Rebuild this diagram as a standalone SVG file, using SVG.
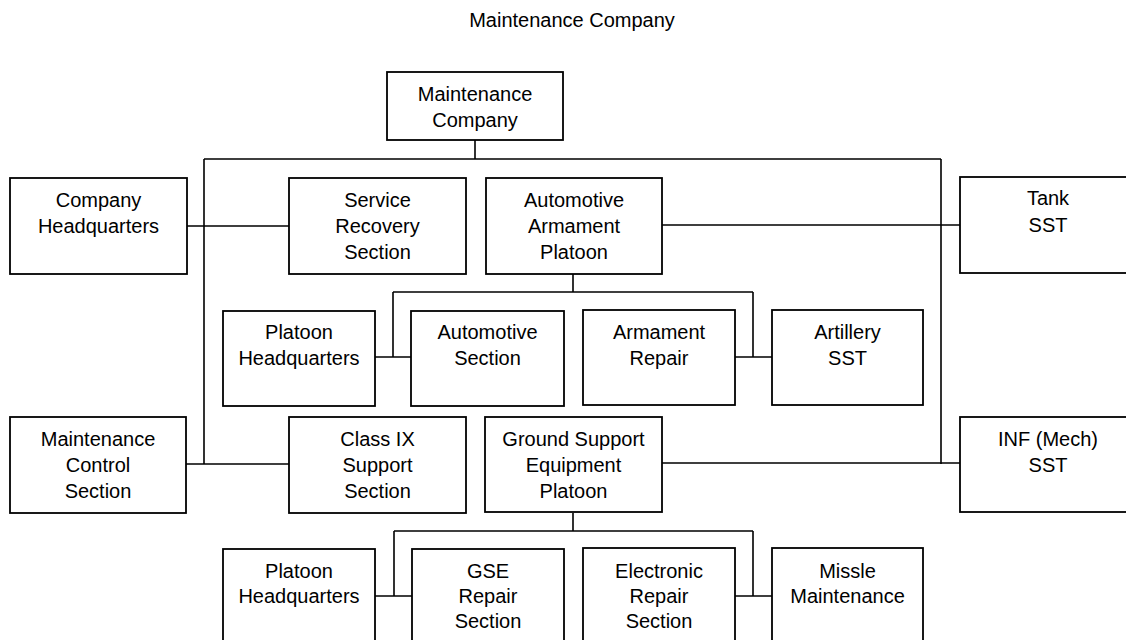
<svg xmlns="http://www.w3.org/2000/svg" width="1126" height="640" viewBox="0 0 1126 640">
<style>
.b{fill:#fff;stroke:#000;stroke-width:1.8}
.t{font-family:"Liberation Sans",Arial,sans-serif;font-size:20px;fill:#000;text-anchor:middle}
.c{fill:none;stroke:#000;stroke-width:1.6}
</style>
<rect width="1126" height="640" fill="#fff"/>
<text class="t" x="572" y="27">Maintenance Company</text>
<g id="connectors">
<path class="c" d="M475,140V159M204,159H941M204,159V464M941,159V464"/>
<path class="c" d="M187,226H289M662,225H960M186,464H289M662,463H960"/>
<path class="c" d="M573,274V292M393,292H753M393,292V357M753,292V357M375,357H411M735,357H772"/>
<path class="c" d="M573,513V531M394,531H753M394,531V596M753,531V596M375,596H412M735,596H772"/>
</g>
<g id="maintenance-company"><rect class="b" x="387" y="72" width="176" height="68"/><text class="t" x="475" y="101">Maintenance</text><text class="t" x="475" y="127">Company</text></g>
<g id="company-hq"><rect class="b" x="10" y="178" width="177" height="96"/><text class="t" x="98.5" y="207">Company</text><text class="t" x="98.5" y="233">Headquarters</text></g>
<g id="service-recovery"><rect class="b" x="289" y="178" width="177" height="96"/><text class="t" x="377.5" y="207">Service</text><text class="t" x="377.5" y="233">Recovery</text><text class="t" x="377.5" y="259">Section</text></g>
<g id="auto-arm-platoon"><rect class="b" x="486" y="178" width="176" height="96"/><text class="t" x="574" y="207">Automotive</text><text class="t" x="574" y="233">Armament</text><text class="t" x="574" y="259">Platoon</text></g>
<g id="tank-sst"><rect class="b" x="960" y="177" width="176" height="96"/><text class="t" x="1048" y="205">Tank</text><text class="t" x="1048" y="232">SST</text></g>
<g id="platoon-hq-1"><rect class="b" x="223" y="311" width="152" height="95"/><text class="t" x="299" y="339">Platoon</text><text class="t" x="299" y="365">Headquarters</text></g>
<g id="automotive-section"><rect class="b" x="411" y="311" width="153" height="95"/><text class="t" x="487.5" y="339">Automotive</text><text class="t" x="487.5" y="365">Section</text></g>
<g id="armament-repair"><rect class="b" x="583" y="310" width="152" height="95"/><text class="t" x="659" y="339">Armament</text><text class="t" x="659" y="365">Repair</text></g>
<g id="artillery-sst"><rect class="b" x="772" y="310" width="151" height="95"/><text class="t" x="847.5" y="339">Artillery</text><text class="t" x="847.5" y="365">SST</text></g>
<g id="maintenance-control"><rect class="b" x="10" y="417" width="176" height="96"/><text class="t" x="98" y="446">Maintenance</text><text class="t" x="98" y="472">Control</text><text class="t" x="98" y="498">Section</text></g>
<g id="class-ix"><rect class="b" x="289" y="417" width="177" height="96"/><text class="t" x="377.5" y="446">Class IX</text><text class="t" x="377.5" y="472">Support</text><text class="t" x="377.5" y="498">Section</text></g>
<g id="gse-platoon"><rect class="b" x="485" y="417" width="177" height="95"/><text class="t" x="573.5" y="446">Ground Support</text><text class="t" x="573.5" y="472">Equipment</text><text class="t" x="573.5" y="498">Platoon</text></g>
<g id="inf-mech-sst"><rect class="b" x="960" y="417" width="176" height="95"/><text class="t" x="1048" y="446">INF (Mech)</text><text class="t" x="1048" y="472">SST</text></g>
<g id="platoon-hq-2"><rect class="b" x="223" y="549" width="152" height="100"/><text class="t" x="299" y="578">Platoon</text><text class="t" x="299" y="603">Headquarters</text></g>
<g id="gse-repair"><rect class="b" x="412" y="549" width="152" height="100"/><text class="t" x="488" y="578">GSE</text><text class="t" x="488" y="603">Repair</text><text class="t" x="488" y="628">Section</text></g>
<g id="electronic-repair"><rect class="b" x="583" y="548" width="152" height="100"/><text class="t" x="659" y="578">Electronic</text><text class="t" x="659" y="603">Repair</text><text class="t" x="659" y="628">Section</text></g>
<g id="missle-maintenance"><rect class="b" x="772" y="548" width="151" height="100"/><text class="t" x="847.5" y="578">Missle</text><text class="t" x="847.5" y="603">Maintenance</text></g>
</svg>
